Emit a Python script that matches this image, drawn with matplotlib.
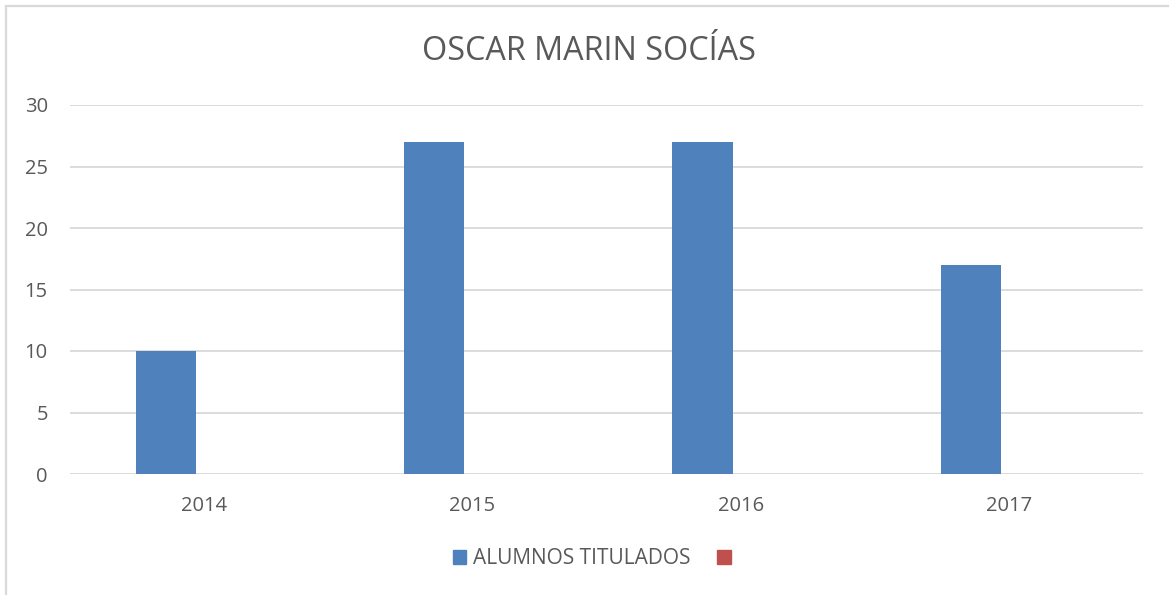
import numpy as np
import matplotlib
matplotlib.use("Agg")
import matplotlib.pyplot as plt
from matplotlib.patches import Patch, Rectangle

years = ["2014", "2015", "2016", "2017"]
titulados = [10, 27, 27, 17]
otra_serie = [0, 0, 0, 0]
serie_names = ["ALUMNOS TITULADOS", ""]
yticks = [0, 5, 10, 15, 20, 25, 30]

blue = "#4F81BD"
red = "#C0504D"
txt = "#595959"
grid = "#D9D9D9"

plt.rcParams["font.family"] = ["Open Sans", "DejaVu Sans"]

W, H = 1169, 595
fig = plt.figure(figsize=(W / 100, H / 100), dpi=100)

# plot area in pixels
left, right, top, bottom = 70, 1143, 105, 474
ax = fig.add_axes([left / W, 1 - bottom / H, (right - left) / W, (bottom - top) / H])

x = np.arange(len(years))
bw = 0.224
ax.bar(x - 0.142, titulados, width=bw, color=blue, zorder=3)
ax.bar(x + 0.082, otra_serie, width=bw, color=red, zorder=3)

ax.set_xlim(-0.5, len(years) - 0.5)
ax.set_ylim(0, 30)
ax.set_yticks(yticks)
ax.set_xticks(x, labels=years)
ax.tick_params(axis="both", length=0, labelsize=14.5, colors=txt)
ax.tick_params(axis="y", pad=16)
ax.tick_params(axis="x", pad=16)
ax.grid(axis="y", color=grid, linewidth=1.3, zorder=0)
for s in ax.spines.values():
    s.set_visible(False)

fig.text(589 / W, 1 - 51 / H, "OSCAR MARIN SOCÍAS", ha="center", va="center",
         fontsize=23.3, color=txt)

handles = [Patch(color=blue), Patch(color=red)]
fig.legend(handles, serie_names, loc="center", bbox_to_anchor=(595 / W, 1 - 559 / H),
           ncol=2, frameon=False, fontsize=15, labelcolor=txt,
           handlelength=0.65, handleheight=0.65, handletextpad=0.3, columnspacing=1.3)

# chart border (cut off at right and bottom)
fig.add_artist(Rectangle((5.5 / W, -0.1), 1.2, 1.1 - 6.5 / H, transform=fig.transFigure,
                         fill=False, edgecolor=grid, linewidth=1.6))

fig.savefig("out.png", dpi=100)
